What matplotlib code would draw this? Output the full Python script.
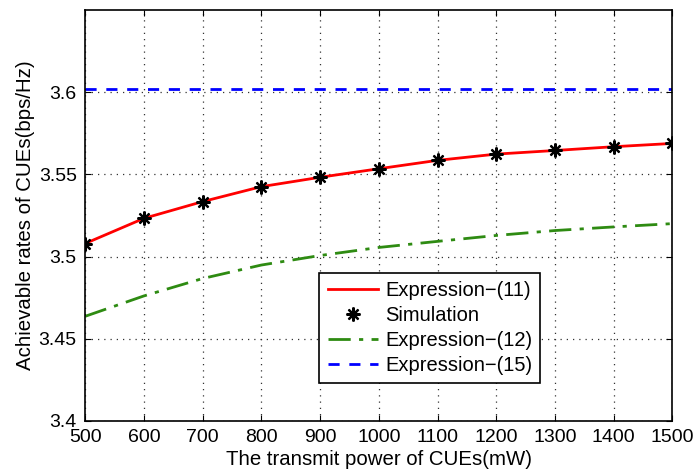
import numpy as np
from matplotlib import pyplot as plt

plt.rcParams['font.family'] = ['Liberation Sans', 'DejaVu Sans']
plt.rcParams['axes.unicode_minus'] = False

# 发射功率 (mW)
power = [500, 600, 700, 800, 900, 1000, 1100, 1200, 1300, 1400, 1500]
# Expression-(11) 和 Simulation
expr11 = [3.5079, 3.5232, 3.5334, 3.5425, 3.5482, 3.5534, 3.5585, 3.5623, 3.5645, 3.5668, 3.5688]
simulation = [3.5079, 3.5232, 3.5334, 3.5425, 3.5482, 3.5534, 3.5585, 3.5623, 3.5645, 3.5668, 3.5688]
# Expression-(12)
expr12 = [3.4636, 3.4760, 3.4866, 3.4948, 3.5006, 3.5055, 3.5092, 3.5128, 3.5158, 3.5180, 3.5200]
# Expression-(15) 常数
expr15 = [3.6018] * len(power)

fig = plt.figure(figsize=(6.95, 4.75), dpi=100)
ax = fig.add_axes([0.1225, 0.114, 0.845, 0.865])

ax.plot(power, expr11, color='red', lw=2, label='Expression\u2212(11)')
ax.plot(power, simulation, ls='none', marker=(8, 2, 0), ms=10, mew=1.6,
        color='black', label='Simulation')
ax.plot(power, expr12, color='#2e8b12', lw=2, ls=(0, (8, 3, 1.5, 3)), label='Expression\u2212(12)')
ax.plot(power, expr15, color='blue', lw=2, ls=(0, (4, 3.5)), label='Expression\u2212(15)')

ax.set_xlim(500, 1500)
ax.set_ylim(3.4, 3.65)
ax.set_xticks(np.arange(500, 1501, 100))
ax.set_yticks([3.4, 3.45, 3.5, 3.55, 3.6])
ax.set_yticklabels(['3.4', '3.45', '3.5', '3.55', '3.6'])
ax.tick_params(direction='in', top=True, right=True, labelsize=14, length=4)
ax.tick_params(axis='x', pad=6)
ax.tick_params(axis='y', pad=6)
ax.grid(True, ls=(0, (1, 4)), color='#333333', lw=0.9)
for s in ax.spines.values():
    s.set_linewidth(1.2)

ax.set_xlabel('The transmit power of CUEs(mW)', fontsize=14.7, labelpad=3)
ax.set_ylabel('Achievable rates of CUEs(bps/Hz)', fontsize=14.7, labelpad=3)

leg = ax.legend(loc='lower left', bbox_to_anchor=(0.399, 0.0925), borderaxespad=0,
                fontsize=14.5, fancybox=False, edgecolor='black', framealpha=1,
                handlelength=2.5, borderpad=0.4, labelspacing=0.3, handletextpad=0.35)
leg.get_frame().set_linewidth(1.2)

plt.savefig('out.png', dpi=100)
